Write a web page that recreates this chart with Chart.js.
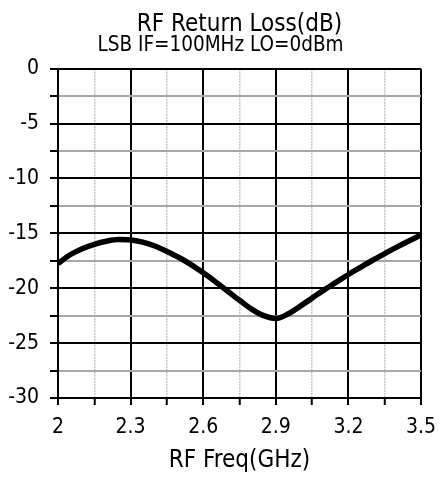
<!DOCTYPE html>
<html>
<head>
<meta charset="utf-8">
<script src="https://cdn.jsdelivr.net/npm/chart.js@4/dist/chart.umd.min.js"></script>
<style>
  html, body { margin: 0; padding: 0; background: #fff; }
</style>
</head>
<body>
<canvas id="lossChart" width="441" height="480"></canvas>
<script>
// RF freq (GHz) and return loss (dB)
const freqGHz = [2.0, 2.05, 2.1, 2.15, 2.2, 2.25, 2.3, 2.35, 2.4, 2.45, 2.5,
                 2.55, 2.6, 2.65, 2.7, 2.75, 2.8, 2.85, 2.9, 2.95, 3.0,
                 3.05, 3.1, 3.15, 3.2, 3.25, 3.3, 3.35, 3.4, 3.45, 3.5];
const returnLoss = [-17.75, -16.95, -16.4, -16.0, -15.72, -15.57, -15.6, -15.8, -16.15, -16.65, -17.2,
                    -17.85, -18.6, -19.4, -20.25, -21.1, -21.9, -22.5, -22.75, -22.35, -21.65,
                    -20.9, -20.15, -19.45, -18.75, -18.1, -17.45, -16.85, -16.25, -15.7, -15.15];
const xTicks = [2, 2.3, 2.6, 2.9, 3.2, 3.5];
const yTicks = [0, -5, -10, -15, -20, -25, -30];
const titleText = 'RF Return Loss(dB)';
const subtitleText = 'LSB IF=100MHz LO=0dBm';
const xTitle = 'RF Freq(GHz)';

const FONT = '"DejaVu Sans Condensed", "DejaVu Sans", sans-serif';

function isMajorX(v) {
  return xTicks.some(t => Math.abs(t - v) < 1e-6);
}
function isMajorY(v) {
  return yTicks.some(t => Math.abs(t - v) < 1e-6);
}

const points = freqGHz.map((f, i) => ({ x: f, y: returnLoss[i] }));

const config = {
  type: 'line',
  data: {
    datasets: [{
      data: points,
      borderColor: '#000',
      borderWidth: 5.5,
      pointRadius: 0,
      fill: false,
      cubicInterpolationMode: 'monotone'
    }]
  },
  options: {
    responsive: false,
    animation: false,
    layout: { padding: 0 },
    plugins: {
      legend: { display: false },
      tooltip: { enabled: false },
      // first line sits over the plot, second over the whole canvas
      title: {
        display: true,
        text: titleText,
        fullSize: false,
        color: '#000',
        font: { family: FONT, size: 24, weight: 'normal', lineHeight: 0.8 },
        padding: { top: 15, bottom: 0 }
      },
      subtitle: {
        display: true,
        text: subtitleText,
        color: '#000',
        font: { family: FONT, size: 20.5, weight: 'normal', lineHeight: 1.0 },
        padding: { top: 1, bottom: 13 }
      }
    },
    scales: {
      x: {
        type: 'linear',
        min: 2,
        max: 3.5,
        afterBuildTicks: function(scale) {
          scale.ticks = [];
          for (let i = 0; i <= 10; i++) {
            scale.ticks.push({ value: Number((2 + i * 0.15).toFixed(2)) });
          }
        },
        afterFit: function(scale) {
          scale.height = 82;
          scale.paddingRight = 20;
        },
        ticks: {
          color: '#000',
          padding: 10,
          maxRotation: 0,
          autoSkip: false,
          font: { family: FONT, size: 21 },
          callback: function(value) {
            return isMajorX(value) ? String(Number(value.toFixed(2))) : '';
          }
        },
        grid: {
          color: ctx => isMajorX(ctx.tick ? ctx.tick.value : 0) ? '#000' : '#c4c4c4',
          lineWidth: ctx => isMajorX(ctx.tick ? ctx.tick.value : 0) ? 2 : 1.5,
          tickColor: '#000',
          tickWidth: 2,
          tickLength: 7
        },
        border: {
          display: true,
          color: '#000',
          width: 2,
          dash: ctx => (ctx.tick && !isMajorX(ctx.tick.value)) ? [2, 1] : []
        },
        title: {
          display: true,
          text: xTitle,
          color: '#000',
          font: { family: FONT, size: 24 },
          padding: { top: 0, bottom: 5 }
        }
      },
      y: {
        type: 'linear',
        min: -30,
        max: 0,
        afterBuildTicks: function(scale) {
          scale.ticks = [];
          for (let i = 0; i <= 12; i++) {
            scale.ticks.push({ value: -30 + i * 2.5 });
          }
        },
        afterFit: function(scale) { scale.width = 58; },
        ticks: {
          color: '#000',
          padding: 11,
          autoSkip: false,
          font: { family: FONT, size: 21 },
          callback: function(value) {
            return isMajorY(value) ? String(value) : '';
          }
        },
        grid: {
          color: ctx => isMajorY(ctx.tick ? ctx.tick.value : 0) ? '#000' : '#a8a8a8',
          lineWidth: 2,
          tickColor: '#000',
          tickWidth: 2,
          tickLength: 8
        },
        border: { display: true, color: '#000', width: 2 }
      }
    }
  }
};

const lossChart = new Chart(document.getElementById('lossChart'), config);
</script>
</body>
</html>
